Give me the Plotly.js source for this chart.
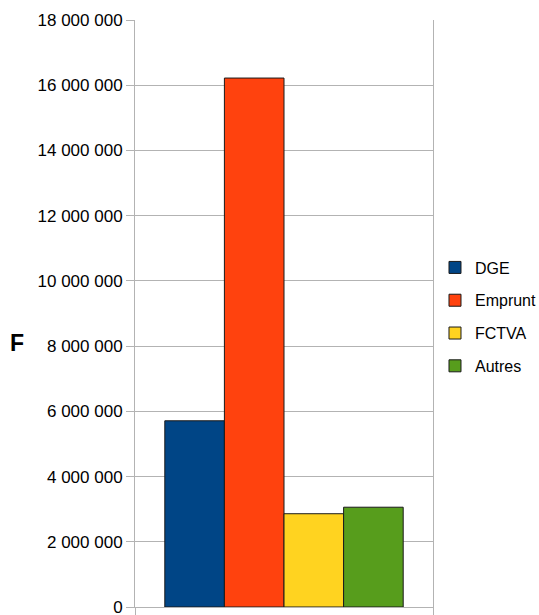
<!DOCTYPE html>
<html>
<head>
<meta charset="utf-8">
<script src="https://cdn.plot.ly/plotly-3.0.1.min.js"></script>
<style>
html,body{margin:0;padding:0;background:#fff;}
#chart{width:539px;height:615px;}
</style>
</head>
<body>
<div id="chart"></div>
<script>
var categories = ["F"];
var seriesNames = ["DGE", "Emprunt", "FCTVA", "Autres"];
var seriesValues = [5710000, 16220000, 2860000, 3060000];
var seriesColors = ["#004586", "#ff420e", "#ffd320", "#579d1c"];
var yTickVals = [0, 2000000, 4000000, 6000000, 8000000, 10000000, 12000000, 14000000, 16000000, 18000000];
var yTickText = ["0", "2 000 000", "4 000 000", "6 000 000", "8 000 000", "10 000 000", "12 000 000", "14 000 000", "16 000 000", "18 000 000"];

var FONT = "'Liberation Sans', Arial, sans-serif";

var traces = seriesNames.map(function(name, i){
  return {
    type: "bar",
    name: name,
    legendgroup: "g" + i,
    x: [0],
    y: [seriesValues[i]],
    marker: {color: seriesColors[i], line: {color: "#1a1a1a", width: 1}},
    hoverinfo: "none"
  };
});

var layout = {
  width: 539,
  height: 615,
  margin: {l: 135, r: 106, t: 20, b: 8, pad: 0, autoexpand: false},
  paper_bgcolor: "#ffffff",
  plot_bgcolor: "#ffffff",
  barmode: "group",
  bargap: 0.2,
  bargroupgap: 0,
  showlegend: true,
  font: {family: FONT, size: 16, color: "#000000"},
  xaxis: {
    range: [-0.5, 0.5],
    tickmode: "array",
    tickvals: [-0.5, 0.5],
    showticklabels: false,
    ticks: "outside",
    ticklen: 8,
    tickcolor: "#b3b3b3",
    showgrid: false,
    zeroline: false,
    showline: true,
    linecolor: "#b3b3b3",
    linewidth: 1,
    mirror: false,
    fixedrange: true
  },
  yaxis: {
    range: [0, 18000000],
    tickmode: "array",
    tickvals: yTickVals,
    ticktext: yTickText,
    ticks: "outside",
    ticklen: 8,
    tickcolor: "#b3b3b3",
    showgrid: true,
    gridcolor: "#b3b3b3",
    gridwidth: 1,
    zeroline: false,
    showline: true,
    linecolor: "#b3b3b3",
    linewidth: 1,
    mirror: true,
    ticklabeloverflow: "allow",
    automargin: false,
    tickfont: {family: FONT, size: 17, color: "#000000"},
    fixedrange: true
  },
  legend: {
    x: 1.0067,
    xanchor: "left",
    xref: "paper",
    y: 0.494,
    yanchor: "middle",
    font: {family: FONT, size: 16, color: "#000000"},
    bgcolor: "rgba(0,0,0,0)",
    traceorder: "grouped",
    tracegroupgap: 9
  },
  annotations: [{
    text: "<b>" + categories[0] + "</b>",
    xref: "paper", yref: "paper",
    x: -0.396, y: 0.45,
    xanchor: "center", yanchor: "middle",
    showarrow: false,
    font: {family: FONT, size: 23, color: "#000000"}
  }]
};

Plotly.newPlot("chart", traces, layout, {staticPlot: true, displayModeBar: false});
</script>
</body>
</html>
